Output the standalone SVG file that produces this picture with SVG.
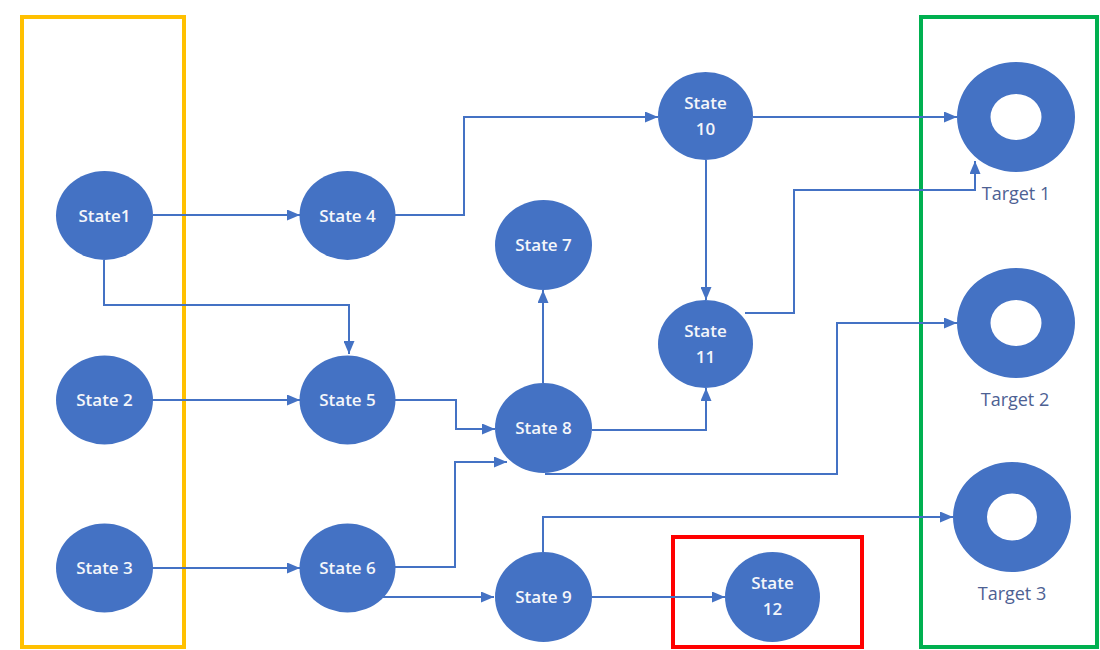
<svg xmlns="http://www.w3.org/2000/svg" width="1100" height="650" viewBox="0 0 1100 650">
<style>
.node{fill:#4472C4}
.lbl{font-family:"Open Sans","Noto Sans",sans-serif;font-size:17px;font-weight:600;fill:#F4F6FA;text-anchor:middle}
.tlbl{font-family:"Open Sans","Noto Sans",sans-serif;font-size:18px;font-weight:400;fill:#4D6193;text-anchor:middle}
.edge{fill:none;stroke:#4472C4;stroke-width:2;marker-end:url(#arr)}
.box{fill:none;stroke-width:4}
</style>
<defs>
<marker id="arr" markerUnits="userSpaceOnUse" markerWidth="13" markerHeight="11" viewBox="0 0 13 11" refX="13" refY="5.5" orient="auto">
<path d="M0,0 L13,5.5 L0,11 z" fill="#4472C4"/>
</marker>
</defs>
<rect width="1100" height="650" fill="#FFFFFF"/>
<g id="groups">
<rect class="box" x="22" y="17" width="162" height="630" stroke="#FFC000"/>
<rect class="box" x="921" y="17" width="176" height="630" stroke="#00B050"/>
<rect class="box" x="673" y="537" width="189" height="110" stroke="#FF0000"/>
</g>
<g id="connectors">
<path class="edge" d="M153,215 H300"/>
<path class="edge" d="M395,215 H464 V117 H658"/>
<path class="edge" d="M753,117 H957"/>
<path class="edge" d="M706,160 V300"/>
<path class="edge" d="M745,313 H794 V190 H975 V161"/>
<path class="edge" d="M104,260 V305 H349 V354"/>
<path class="edge" d="M152,400 H300"/>
<path class="edge" d="M152,568 H300"/>
<path class="edge" d="M395,400 H456 V429 H495"/>
<path class="edge" d="M395,567 H455 V462 H507"/>
<path class="edge" d="M543,383 V290"/>
<path class="edge" d="M592,430 H706 V388"/>
<path class="edge" d="M545,474 H837 V323 H957"/>
<path class="edge" d="M383,597 H494"/>
<path class="edge" d="M543,552 V517 H953"/>
<path class="edge" d="M592,597 H725"/>
</g>
<g id="state1"><ellipse class="node" cx="104.5" cy="215.5" rx="48.5" ry="44.5"/><text class="lbl" x="104.5" y="221.5">State1</text></g>
<g id="state2"><ellipse class="node" cx="104.5" cy="400" rx="48.5" ry="44.5"/><text class="lbl" x="104.5" y="406">State 2</text></g>
<g id="state3"><ellipse class="node" cx="104.5" cy="568" rx="48.5" ry="44.5"/><text class="lbl" x="104.5" y="574">State 3</text></g>
<g id="state4"><ellipse class="node" cx="347.5" cy="215.5" rx="48" ry="44.5"/><text class="lbl" x="347.5" y="221.5">State 4</text></g>
<g id="state5"><ellipse class="node" cx="347.5" cy="400" rx="48" ry="44.5"/><text class="lbl" x="347.5" y="406">State 5</text></g>
<g id="state6"><ellipse class="node" cx="347.5" cy="568" rx="48" ry="44.5"/><text class="lbl" x="347.5" y="574">State 6</text></g>
<g id="state7"><ellipse class="node" cx="543.5" cy="245" rx="48.5" ry="45"/><text class="lbl" x="543.5" y="251">State 7</text></g>
<g id="state8"><ellipse class="node" cx="543.5" cy="428" rx="48.5" ry="45"/><text class="lbl" x="543.5" y="434">State 8</text></g>
<g id="state9"><ellipse class="node" cx="543.5" cy="597" rx="48.5" ry="45"/><text class="lbl" x="543.5" y="603">State 9</text></g>
<g id="state10"><ellipse class="node" cx="705.5" cy="116" rx="47.5" ry="44"/><text class="lbl" x="705.5" y="109">State</text><text class="lbl" x="705.5" y="135">10</text></g>
<g id="state11"><ellipse class="node" cx="705.5" cy="344" rx="47.5" ry="44"/><text class="lbl" x="705.5" y="337">State</text><text class="lbl" x="705.5" y="363">11</text></g>
<g id="state12"><ellipse class="node" cx="772.5" cy="597" rx="47.5" ry="45"/><text class="lbl" x="772.5" y="589">State</text><text class="lbl" x="772.5" y="615">12</text></g>
<g id="target1"><path class="node" fill-rule="evenodd" d="M957,117 a59,55 0 1,0 118,0 a59,55 0 1,0 -118,0 z M990.5,117 a25.5,23 0 1,0 51,0 a25.5,23 0 1,0 -51,0 z"/><text class="tlbl" x="1016" y="200">Target 1</text></g>
<g id="target2"><path class="node" fill-rule="evenodd" d="M957,323 a59,55 0 1,0 118,0 a59,55 0 1,0 -118,0 z M990.5,323 a25.5,23 0 1,0 51,0 a25.5,23 0 1,0 -51,0 z"/><text class="tlbl" x="1015" y="406">Target 2</text></g>
<g id="target3"><path class="node" fill-rule="evenodd" d="M953,517 a59,55 0 1,0 118,0 a59,55 0 1,0 -118,0 z M987,517 a25,23.5 0 1,0 50,0 a25,23.5 0 1,0 -50,0 z"/><text class="tlbl" x="1012" y="600">Target 3</text></g>
</svg>
